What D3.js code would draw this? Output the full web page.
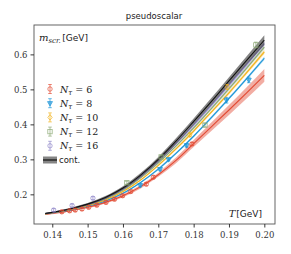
<!DOCTYPE html>
<html><head><meta charset="utf-8">
<script src="https://cdn.jsdelivr.net/npm/d3@7"></script>
<style>body{margin:0;background:#fff}svg{display:block}</style>
</head><body><svg id="c" width="291" height="254"></svg>
<script>
// ---- data ----
const title = "pseudoscalar";
const xTicks = [0.14, 0.15, 0.16, 0.17, 0.18, 0.19, 0.20];
const yTicks = [0.2, 0.3, 0.4, 0.5, 0.6];
const gridT = [0.138, 0.142, 0.146, 0.150, 0.155, 0.160, 0.165, 0.170, 0.175, 0.180, 0.185, 0.190, 0.195, 0.200];
const fit6  = [0.143, 0.148, 0.155, 0.163, 0.177, 0.196, 0.222, 0.256, 0.297, 0.345, 0.393, 0.441, 0.490, 0.540];
const fit8  = [0.144, 0.150, 0.157, 0.166, 0.181, 0.203, 0.234, 0.272, 0.317, 0.366, 0.419, 0.474, 0.531, 0.589];
const fit10 = [0.144, 0.151, 0.158, 0.168, 0.184, 0.208, 0.241, 0.283, 0.330, 0.381, 0.435, 0.490, 0.548, 0.607];
const fit12 = [0.145, 0.151, 0.159, 0.170, 0.187, 0.212, 0.247, 0.290, 0.338, 0.390, 0.445, 0.502, 0.561, 0.621];
const fit16 = [0.145, 0.152, 0.160, 0.171, 0.189, 0.215, 0.251, 0.295, 0.345, 0.398, 0.454, 0.512, 0.571, 0.631];
const fitCont = [0.145, 0.152, 0.161, 0.172, 0.191, 0.218, 0.255, 0.300, 0.352, 0.408, 0.465, 0.524, 0.583, 0.641];
const band6  = [0.002, 0.002, 0.002, 0.003, 0.003, 0.004, 0.005, 0.006, 0.008, 0.010, 0.012, 0.014, 0.016, 0.018];
const band8  = [0.001, 0.001, 0.001, 0.001, 0.002, 0.002, 0.002, 0.003, 0.003, 0.003, 0.004, 0.004, 0.004, 0.005];
const band10 = [0.001, 0.001, 0.001, 0.001, 0.002, 0.002, 0.002, 0.003, 0.003, 0.004, 0.004, 0.005, 0.005, 0.006];
const band12 = [0.001, 0.001, 0.001, 0.001, 0.002, 0.002, 0.002, 0.003, 0.003, 0.004, 0.004, 0.005, 0.005, 0.006];
const band16 = [0.001, 0.001, 0.001, 0.002, 0.002, 0.002, 0.003, 0.003, 0.004, 0.004, 0.005, 0.006, 0.006, 0.007];
const bandCont = [0.002, 0.002, 0.003, 0.003, 0.004, 0.005, 0.006, 0.007, 0.008, 0.009, 0.010, 0.011, 0.012, 0.014];
const pts6T = [0.1427, 0.1449, 0.1465, 0.1484, 0.1503, 0.1526, 0.1552, 0.1576, 0.1599, 0.1622, 0.1666, 0.1686, 0.1795];
const pts6M = [0.150, 0.153, 0.155, 0.158, 0.163, 0.169, 0.177, 0.186, 0.196, 0.208, 0.229, 0.249, 0.344];
const pts6E = [0.002, 0.002, 0.002, 0.002, 0.002, 0.002, 0.002, 0.002, 0.002, 0.003, 0.003, 0.003, 0.004];
const pts8T = [0.1649, 0.1705, 0.1729, 0.1780, 0.1893, 0.1956];
const pts8M = [0.226, 0.272, 0.300, 0.340, 0.469, 0.527];
const pts8E = [0.003, 0.003, 0.003, 0.005, 0.008, 0.008];
const pts10T = [0.1789, 0.1895];
const pts10M = [0.370, 0.507];
const pts10E = [0.005, 0.007];
const pts12T = [0.1611, 0.1708, 0.1832, 0.1976];
const pts12M = [0.233, 0.307, 0.398, 0.627];
const pts12E = [0.003, 0.004, 0.005, 0.008];
const pts16T = [0.1404, 0.1456, 0.1515];
const pts16M = [0.155, 0.168, 0.189];
const pts16E = [0.002, 0.002, 0.003];
const legendLabels = ["6", "8", "10", "12", "16"];

// ---- setup ----
const svg = d3.select("#c");
const L = 34, R = 275, T0 = 25, B = 224;
const x = d3.scaleLinear().domain([0.13483, 0.20302]).range([L, R]);
const y = d3.scaleLinear().domain([0.1152, 0.684]).range([B, T0]);
const serif = "'DejaVu Serif', serif";
const sans = "'DejaVu Sans', sans-serif";

const series = [
  {fit: fit6, band: band6, T: pts6T, M: pts6M, E: pts6E, color: "#E24A33", bandOp: 0.45, marker: "circle", label: "6"},
  {fit: fit8, band: band8, T: pts8T, M: pts8M, E: pts8E, color: "#1E96D8", bandOp: 0.4, marker: "tri", label: "8"},
  {fit: fit10, band: band10, T: pts10T, M: pts10M, E: pts10E, color: "#F2B21B", bandOp: 0.4, marker: "diamond", label: "10"},
  {fit: fit12, band: band12, T: pts12T, M: pts12M, E: pts12E, color: "#8BA873", bandOp: 0.4, marker: "square", label: "12"},
  {fit: fit16, band: band16, T: pts16T, M: pts16M, E: pts16E, color: "#8E86C8", bandOp: 0.4, marker: "circle", label: "16"}
];

const area = (fit, band) => d3.area().curve(d3.curveMonotoneX)
  .x((d, i) => x(gridT[i])).y0((d, i) => y(fit[i] - band[i])).y1((d, i) => y(fit[i] + band[i]))(fit);
const line = (fit) => d3.line().curve(d3.curveMonotoneX)
  .x((d, i) => x(gridT[i])).y((d, i) => y(d))(fit);

const plot = svg.append("g");
series.forEach(s => {
  plot.append("path").attr("d", area(s.fit, s.band)).attr("fill", s.color).attr("opacity", s.bandOp);
  plot.append("path").attr("d", line(s.fit)).attr("fill", "none").attr("stroke", s.color).attr("stroke-width", 1.1);
});
plot.append("path").attr("d", area(fitCont, bandCont)).attr("fill", "#444").attr("opacity", 0.65);
plot.append("path").attr("d", line(fitCont)).attr("fill", "none").attr("stroke", "#111").attr("stroke-width", 1.1);

function marker(g, type, cx, cy, color) {
  const sz = 2.2;
  let el;
  if (type === "circle") el = g.append("circle").attr("cx", cx).attr("cy", cy).attr("r", sz);
  else if (type === "square") el = g.append("rect").attr("x", cx - sz).attr("y", cy - sz).attr("width", 2 * sz).attr("height", 2 * sz);
  else if (type === "diamond") el = g.append("path").attr("d", `M${cx},${cy - sz - 0.6}L${cx + sz},${cy}L${cx},${cy + sz + 0.6}L${cx - sz},${cy}Z`);
  else el = g.append("path").attr("d", `M${cx - sz - 0.3},${cy - sz + 0.6}L${cx + sz + 0.3},${cy - sz + 0.6}L${cx},${cy + sz + 0.6}Z`);
  el.attr("fill", type === "tri" ? color : "none").attr("fill-opacity", type === "tri" ? 0.6 : 1)
    .attr("stroke", color).attr("stroke-width", 0.8).attr("stroke-opacity", 0.85);
}
function errbar(g, cx, cy, h, color) {
  g.append("line").attr("x1", cx).attr("x2", cx).attr("y1", cy - h).attr("y2", cy + h).attr("stroke", color).attr("stroke-width", 0.8).attr("stroke-opacity", 0.85);
  [cy - h, cy + h].forEach(v => g.append("line").attr("x1", cx - 1.8).attr("x2", cx + 1.8).attr("y1", v).attr("y2", v).attr("stroke", color).attr("stroke-width", 0.8).attr("stroke-opacity", 0.85));
}

const ptsG = svg.append("g");
series.forEach(s => {
  s.T.forEach((t, i) => {
    const cx = x(t), cy = y(s.M[i]);
    const h = Math.max(y(s.M[i] - s.E[i]) - cy, 1.5);
    errbar(ptsG, cx, cy, h, s.color);
    marker(ptsG, s.marker, cx, cy, s.color);
  });
});

// frame
svg.append("rect").attr("x", L).attr("y", T0).attr("width", R - L).attr("height", B - T0)
  .attr("fill", "none").attr("stroke", "#555").attr("stroke-width", 0.9);

// axes
const xa = svg.append("g").attr("transform", `translate(0,${B})`)
  .call(d3.axisBottom(x).tickValues(xTicks).tickFormat(d3.format(".2f")).tickSize(3.5).tickPadding(4));
const ya = svg.append("g").attr("transform", `translate(${L},0)`)
  .call(d3.axisLeft(y).tickValues(yTicks).tickFormat(d3.format(".1f")).tickSize(3.5).tickPadding(3));
[xa, ya].forEach(a => {
  a.select(".domain").remove();
  a.selectAll(".tick line").attr("stroke", "#222").attr("stroke-width", 0.9);
  a.selectAll(".tick text").attr("font-family", serif).attr("font-size", 8.5).attr("fill", "#333");
});

// title
svg.append("text").attr("x", 154).attr("y", 19).attr("text-anchor", "middle")
  .attr("font-family", sans).attr("font-size", 8.5).attr("fill", "#222").text(title);

// y label
const yl = svg.append("text").attr("x", 39).attr("y", 41).attr("fill", "#222");
yl.append("tspan").attr("font-family", serif).attr("font-style", "italic").attr("font-size", 10).text("m");
yl.append("tspan").attr("font-family", serif).attr("font-style", "italic").attr("font-size", 7).attr("dy", 1.5).text("scr.");
yl.append("tspan").attr("font-family", sans).attr("font-size", 9).attr("dy", -1.5).attr("dx", 1.5).text("[GeV]");

// x label
const xl = svg.append("text").attr("x", 262).attr("y", 217).attr("text-anchor", "end").attr("fill", "#222");
xl.append("tspan").attr("font-family", serif).attr("font-style", "italic").attr("font-size", 10).text("T");
xl.append("tspan").attr("font-family", sans).attr("font-size", 9).attr("dx", 1).text("[GeV]");

// legend
const leg = svg.append("g");
const ly0 = 89, ldy = 14.2;
series.forEach((s, i) => {
  const cy = ly0 + i * ldy, cx = 50;
  errbar(leg, cx, cy, 4.5, s.color);
  marker(leg, s.marker, cx, cy, s.color);
  const t = leg.append("text").attr("x", 60).attr("y", cy + 3.5).attr("fill", "#222").attr("font-family", serif).attr("font-size", 9.5);
  t.append("tspan").attr("font-style", "italic").text("N");
  t.append("tspan").attr("font-style", "italic").attr("font-size", 7).attr("dy", 2).text("τ");
  t.append("tspan").attr("dy", -2).text(" = " + legendLabels[i]);
});
const cyc = ly0 + 5 * ldy;
leg.append("rect").attr("x", 43).attr("y", cyc - 3.5).attr("width", 14).attr("height", 7).attr("fill", "#444").attr("opacity", 0.65);
leg.append("line").attr("x1", 43).attr("x2", 57).attr("y1", cyc).attr("y2", cyc).attr("stroke", "#111").attr("stroke-width", 1.2);
leg.append("text").attr("x", 59).attr("y", cyc + 3).attr("font-family", sans).attr("font-size", 8.5).attr("fill", "#222").text("cont.");
</script></body></html>
